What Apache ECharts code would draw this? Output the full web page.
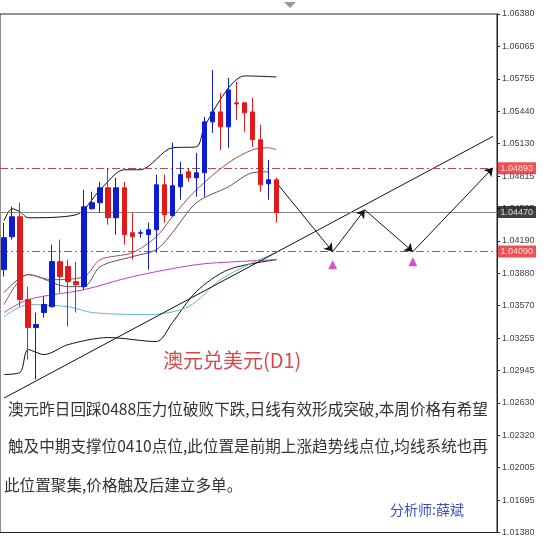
<!DOCTYPE html>
<html>
<head>
<meta charset="utf-8">
<script src="https://cdn.jsdelivr.net/npm/echarts@6/dist/echarts.min.js"></script>
<style>
  html, body { margin: 0; padding: 0; background: #fff; }
  #chart { width: 550px; height: 537px; }
</style>
</head>
<body>
<div id="chart"></div>
<script>
// [open, close, low, high]
const candles = [
  [1.03915, 1.04223, 1.03847, 1.04367], [1.04232, 1.04425, 1.04204, 1.04521],
  [1.04425, 1.03626, 1.03558, 1.04560], [1.03626, 1.03356, 1.03048, 1.03751],
  [1.03356, 1.03385, 1.02856, 1.03501], [1.03501, 1.03578, 1.03452, 1.03655],
  [1.03558, 1.03992, 1.03549, 1.04155], [1.03992, 1.03847, 1.03693, 1.04204],
  [1.03944, 1.03799, 1.03366, 1.04011], [1.03799, 1.03770, 1.03501, 1.03992],
  [1.03751, 1.04521, 1.03722, 1.04685], [1.04502, 1.04560, 1.04492, 1.04666],
  [1.04560, 1.04704, 1.04464, 1.04762], [1.04704, 1.04415, 1.04348, 1.04897],
  [1.04415, 1.04704, 1.04252, 1.04801], [1.04704, 1.04252, 1.04155, 1.04762],
  [1.04271, 1.04232, 1.04011, 1.04464], [1.04266, 1.04271, 1.04223, 1.04300],
  [1.04252, 1.04300, 1.03915, 1.04367], [1.04300, 1.04733, 1.04078, 1.04830],
  [1.04733, 1.04444, 1.04367, 1.04830], [1.04435, 1.04724, 1.04425, 1.05138],
  [1.04714, 1.04830, 1.04589, 1.04955], [1.04858, 1.04801, 1.04762, 1.04897],
  [1.04801, 1.04849, 1.04618, 1.05041], [1.04849, 1.05340, 1.04618, 1.05388],
  [1.05340, 1.05436, 1.05234, 1.05841], [1.05436, 1.05292, 1.05070, 1.05619],
  [1.05292, 1.05648, 1.05090, 1.05764], [1.05523, 1.05513, 1.05359, 1.05725],
  [1.05523, 1.05427, 1.05244, 1.05533], [1.05436, 1.05167, 1.05099, 1.05571],
  [1.05167, 1.04733, 1.04666, 1.05311], [1.04743, 1.04781, 1.04589, 1.04974],
  [1.04781, 1.04464, 1.04367, 1.04801]
];
const slotCount = 62;

// sparse [index, value] points for the indicator lines
const bbUpper = [[0,1.04386],[1,1.04502],[2,1.04473],[3,1.04415],[9,1.04444],[12,1.04685],[15,1.04878],[17,1.04878],[21,1.05090],[24,1.05099],[25,1.05292],[28,1.05667],[30,1.05783],[34,1.05773]];
const bbMiddle = [[0,1.03693],[3,1.03867],[8,1.03751],[10,1.03751],[12,1.03944],[16,1.04040],[19,1.04107],[21,1.04271],[24,1.04560],[28,1.04714],[31,1.04849],[33,1.04858]];
const bbLower = [[0,1.02904],[2,1.02923],[3,1.03144],[5,1.03096],[8,1.03192],[13,1.03260],[19,1.03221],[21,1.03404],[24,1.03703],[28,1.03915],[34,1.04011]];
const maRed = [[0,1.03578],[3,1.03867],[6,1.03818],[10,1.03847],[12,1.04011],[16,1.04078],[19,1.04232],[21,1.04425],[24,1.04685],[28,1.04945],[31,1.05070],[33,1.05090],[34,1.05070]];
const maMagenta = [[0,1.03501],[3,1.03626],[10,1.03722],[16,1.03847],[24,1.03963],[29,1.03992],[34,1.04011]];
const maCyan = [[0,1.03462],[3,1.03578],[8,1.03558],[11,1.03501],[18,1.03481],[23,1.03558],[27,1.03818],[31,1.03982],[34,1.04078]];
const trendLine = [[0,1.02676],[61,1.05200]];

const arrowPath = [[34,1.04752],[41,1.04088],[45,1.04492],[51,1.04088],[61,1.04897]];
const targets = [[41,1.03963],[51,1.03992]];

const levelValues = [1.04893, 1.04470, 1.04090];
const levelLabels = ['1.04893', '1.04470', '1.04090'];
const levelBg = ['#e8262a', '#111', '#e8262a'];
const levelLine = ['#b05050', '#888', '#b05050'];
const levelType = [[8, 3, 2, 3], 'solid', [8, 3, 2, 3]];

const yMin = 1.0138, yMax = 1.0638, yStep = 0.003125;
const tickLabels = ['1.01380','1.01695','1.02005','1.02320','1.02630','1.02945','1.03255','1.03570','1.03880','1.04190','1.04505','1.04815','1.05130','1.05440','1.05755','1.06065','1.06380'];

const title = '澳元兑美元(D1)';
const textLines = [
  '澳元昨日回踩0488压力位破败下跌,日线有效形成突破,本周价格有希望',
  '触及中期支撑位0410点位,此位置是前期上涨趋势线点位,均线系统也再',
  '此位置聚集,价格触及后建立多单。'
];
const analyst = '分析师:薛斌';

const categories = Array.from({ length: slotCount }, (_, i) => String(i));
const font = '"Noto Sans CJK SC", sans-serif';

function lineSeries (data, color, width) {
  return {
    type: 'line', data, symbol: 'none', smooth: 0.3, silent: true,
    lineStyle: { color, width: width || 1 }, z: 3
  };
}

const chart = echarts.init(document.getElementById('chart'));
chart.setOption({
  animation: false,
  backgroundColor: '#fff',
  grid: { left: 0, right: 53, top: 14, bottom: 4, show: true, borderColor: '#222', borderWidth: 1 },
  xAxis: {
    type: 'category', data: categories, boundaryGap: true,
    axisLine: { show: false }, axisTick: { show: false }, axisLabel: { show: false }, splitLine: { show: false }
  },
  yAxis: {
    type: 'value', position: 'right', min: yMin, max: yMax, interval: yStep,
    axisLine: { show: true, lineStyle: { color: '#222' } },
    axisTick: { show: true, length: 3, lineStyle: { color: '#222' } },
    splitLine: { show: false },
    axisLabel: {
      fontSize: 9, color: '#444', margin: 5, fontFamily: 'Arial, sans-serif',
      formatter: v => tickLabels[Math.round((v - yMin) / yStep)] || ''
    }
  },
  series: [
    {
      type: 'candlestick', data: candles, barWidth: 5,
      itemStyle: { color: '#0a1ecf', color0: '#e01b1b', borderColor: '#0a1ecf', borderColor0: '#e01b1b', borderWidth: 1 },
      z: 5
    },
    {
      type: 'line', data: [], silent: true, z: 2,
      markLine: {
        silent: true, symbol: 'none',
        data: levelValues.map((v, i) => [
          { coord: [0, v], x: 0, lineStyle: { color: levelLine[i], type: levelType[i], width: 1 } },
          { coord: [slotCount - 1, v], x: 497 }
        ]),
        label: { show: false }
      }
    },
    lineSeries(bbUpper, '#111'),
    lineSeries(bbMiddle, '#555'),
    lineSeries(bbLower, '#111'),
    lineSeries(maRed, '#a05050'),
    lineSeries(maMagenta, '#c040c0'),
    lineSeries(maCyan, '#60b8c8'),
    { type: 'line', data: trendLine, symbol: 'none', silent: true, lineStyle: { color: '#111', width: 1 }, z: 4 },
    {
      type: 'line', data: [], silent: true,
      markLine: {
        silent: true, symbol: ['none', 'arrow'], symbolSize: 8,
        lineStyle: { color: '#111', width: 1, type: 'solid' }, label: { show: false },
        data: arrowPath.slice(1).map((p, i) => [{ coord: arrowPath[i] }, { coord: p }])
      }
    },
    {
      type: 'scatter', data: targets, symbol: 'triangle', symbolSize: [9, 9],
      itemStyle: { color: '#d020d0' }, silent: true, z: 6
    },
    {
      type: 'scatter', symbolSize: 1, silent: true, z: 20,
      itemStyle: { color: 'rgba(0,0,0,0)' },
      data: levelValues.map((v, i) => ({
        value: [slotCount - 1, v],
        label: {
          show: true, position: 'right', distance: 4, formatter: levelLabels[i],
          color: '#fff', fontSize: 9, padding: [2, 3, 1, 3], fontFamily: 'Arial, sans-serif',
          backgroundColor: levelBg[i]
        }
      }))
    }
  ],
  graphic: [
    { type: 'text', left: 163, top: 350, style: { text: title, fill: '#d84848', font: '20px ' + font }, z: 10 },
    ...textLines.map((t, i) => ({
      type: 'text', left: i === 2 ? 4 : 8, top: [401, 438, 477][i],
      style: { text: t, fill: '#333', font: '15.6px ' + font }, z: 10
    })),
    { type: 'text', left: 390, top: 503, style: { text: analyst, fill: '#3a4fc0', font: '14px ' + font }, z: 10 },
    { type: 'polygon', shape: { points: [[284, 2], [296, 2], [290, 8]] }, style: { fill: '#999' }, z: 10 }
  ]
});
</script>
</body>
</html>
